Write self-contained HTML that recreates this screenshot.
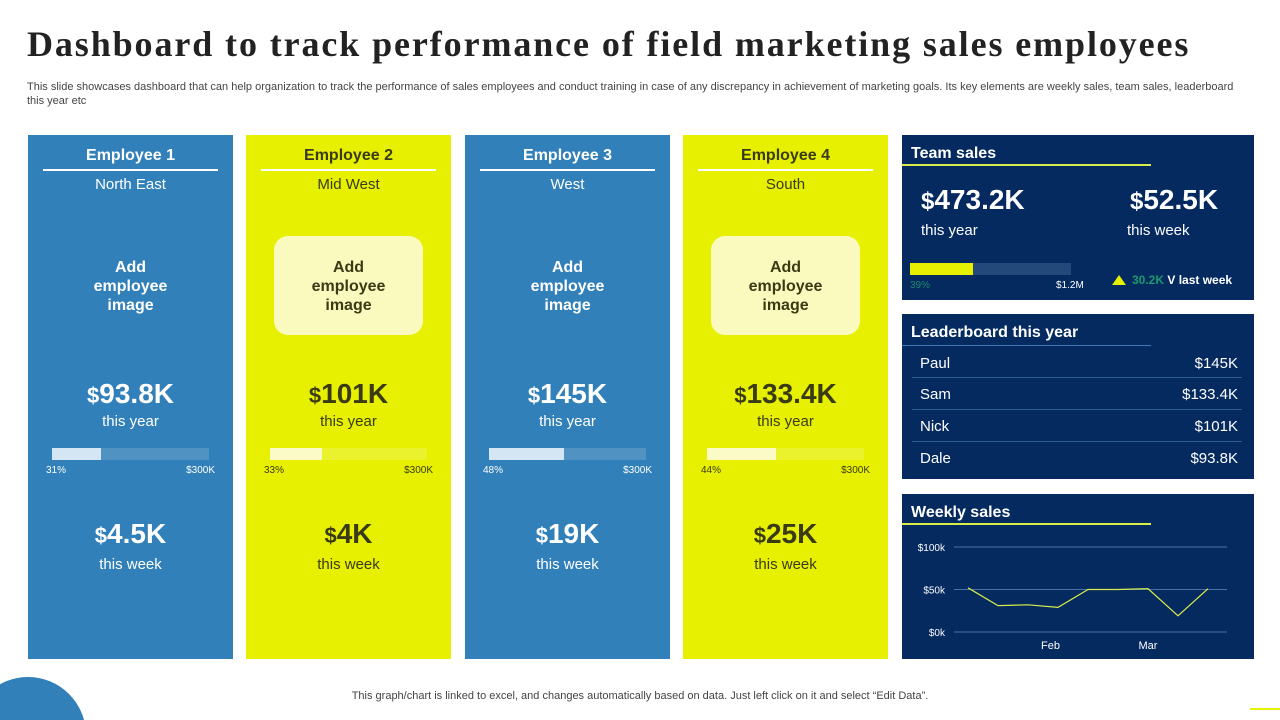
<!DOCTYPE html>
<html style="width:1280px;height:720px;overflow:hidden"><head><meta charset="utf-8">
<style>
html,body{overflow:hidden}
body{margin:0;width:1280px;height:720px;background:#fff;position:relative;overflow:hidden;font-family:"Liberation Sans",sans-serif}
.a{position:absolute}
.card{position:absolute;top:135px;width:205px;height:524px}
.blue{background:#3280b9;color:#fff}
.yel{background:#e6f000;color:#3a3a14}
.c{position:absolute;left:0;width:100%;text-align:center}
.ul{position:absolute;left:15px;width:175px;top:34px;height:2px;background:#fff}
.rg{top:41px;font-size:15px}
.img{position:absolute;left:28px;width:149px;top:101px;height:99px;border-radius:14px}
.yel .img{background:#fafabf}
.it{top:123px;font-weight:bold;font-size:16px;line-height:19px}
.big{font-weight:bold;font-size:28px}
.big small{font-size:22px}
.sub{font-size:15px}
.bar{position:absolute;left:24px;width:157px;top:313px;height:12px}
.blue .bar{background:rgba(255,255,255,.15)}
.yel .bar{background:rgba(255,255,255,.18)}
.fill{position:absolute;left:0;top:0;height:12px}
.blue .fill{background:#d4e5f4}
.yel .fill{background:#fbfbc8}
.bl{position:absolute;top:330px;font-size:10px}
.panel{position:absolute;left:902px;width:352px;background:#052a60;color:#fff}
.ph{position:absolute;left:9px;top:10px;font-weight:bold;font-size:16px}
.lb{position:absolute;left:18px;font-size:15px}
.lv{position:absolute;right:16px;font-size:15px}
.ld{position:absolute;left:10px;width:330px;height:1px;background:#2c5a92}
</style></head><body>
<div class="a" style="left:27px;top:23px;font-family:'Liberation Serif',serif;font-weight:bold;font-size:36px;color:#222;letter-spacing:1.9px;white-space:nowrap">Dashboard to track performance of field marketing sales employees</div>
<div class="a" style="left:27px;top:80px;width:1212px;font-size:11px;color:#444;line-height:14px">This slide showcases dashboard that can help organization to track the performance of sales employees and conduct training in case of any discrepancy in achievement of marketing goals. Its key elements are weekly sales, team sales, leaderboard this year etc</div>

<div class="card blue" style="left:28px">
<div class="c" style="top:12px;font-weight:bold;font-size:16px">Employee 1</div><div class="ul"></div>
<div class="c rg" style="top:41px">North East</div>
<div class="c it" style="top:123px">Add<br>employee<br>image</div>
<div class="c big" style="top:243px"><small>$</small>93.8K</div>
<div class="c sub" style="top:278px">this year</div>
<div class="bar"><div class="fill" style="width:31%"></div></div>
<div class="bl" style="left:18px">31%</div><div class="bl" style="right:18px">$300K</div>
<div class="c big" style="top:383px"><small>$</small>4.5K</div>
<div class="c sub" style="top:421px">this week</div>
</div>

<div class="card yel" style="left:246px">
<div class="c" style="top:12px;font-weight:bold;font-size:16px">Employee 2</div><div class="ul"></div>
<div class="c rg" style="top:41px">Mid West</div>
<div class="img"></div>
<div class="c it" style="top:123px">Add<br>employee<br>image</div>
<div class="c big" style="top:243px"><small>$</small>101K</div>
<div class="c sub" style="top:278px">this year</div>
<div class="bar"><div class="fill" style="width:33%"></div></div>
<div class="bl" style="left:18px">33%</div><div class="bl" style="right:18px">$300K</div>
<div class="c big" style="top:383px"><small>$</small>4K</div>
<div class="c sub" style="top:421px">this week</div>
</div>

<div class="card blue" style="left:465px">
<div class="c" style="top:12px;font-weight:bold;font-size:16px">Employee 3</div><div class="ul"></div>
<div class="c rg" style="top:41px">West</div>
<div class="c it" style="top:123px">Add<br>employee<br>image</div>
<div class="c big" style="top:243px"><small>$</small>145K</div>
<div class="c sub" style="top:278px">this year</div>
<div class="bar"><div class="fill" style="width:48%"></div></div>
<div class="bl" style="left:18px">48%</div><div class="bl" style="right:18px">$300K</div>
<div class="c big" style="top:383px"><small>$</small>19K</div>
<div class="c sub" style="top:421px">this week</div>
</div>

<div class="card yel" style="left:683px">
<div class="c" style="top:12px;font-weight:bold;font-size:16px">Employee 4</div><div class="ul"></div>
<div class="c rg" style="top:41px">South</div>
<div class="img"></div>
<div class="c it" style="top:123px">Add<br>employee<br>image</div>
<div class="c big" style="top:243px"><small>$</small>133.4K</div>
<div class="c sub" style="top:278px">this year</div>
<div class="bar"><div class="fill" style="width:44%"></div></div>
<div class="bl" style="left:18px">44%</div><div class="bl" style="right:18px">$300K</div>
<div class="c big" style="top:383px"><small>$</small>25K</div>
<div class="c sub" style="top:421px">this week</div>
</div>

<div class="panel" style="top:135px;height:165px">
<div class="ph" style="top:10px">Team sales</div>
<div class="a" style="left:0;top:29px;width:249px;height:2px;background:#d8ec4a"></div>
<div class="a" style="left:19px;top:49px;font-weight:bold;font-size:28px"><span style="font-size:24px">$</span>473.2K</div>
<div class="a" style="left:19px;top:87px;font-size:15px">this year</div>
<div class="a" style="left:228px;top:49px;font-weight:bold;font-size:28px"><span style="font-size:24px">$</span>52.5K</div>
<div class="a" style="left:225px;top:87px;font-size:15px">this week</div>
<div class="a" style="left:8px;top:128px;width:161px;height:12px;background:#23487a"><div class="a" style="left:0;top:0;width:39%;height:12px;background:#e6f000"></div></div>
<div class="a" style="left:8px;top:145px;font-size:10px;color:#1a8a6a">39%</div>
<div class="a" style="left:154px;top:145px;font-size:10px">$1.2M</div>
<div class="a" style="left:210px;top:140px;width:0;height:0;border-left:7px solid transparent;border-right:7px solid transparent;border-bottom:10px solid #e6f000"></div>
<div class="a" style="left:230px;top:138px;font-size:12px;font-weight:bold"><span style="color:#1d9a6c">30.2K</span> V last week</div>
</div>

<div class="panel" style="top:314px;height:165px">
<div class="ph" style="top:10px">Leaderboard this year</div>
<div class="a" style="left:0;top:31px;width:249px;height:1px;background:#3f78b8"></div>
<div class="lb" style="top:41px">Paul</div><div class="lv" style="top:41px">$145K</div>
<div class="ld" style="top:63px"></div>
<div class="lb" style="top:72px">Sam</div><div class="lv" style="top:72px">$133.4K</div>
<div class="ld" style="top:95px"></div>
<div class="lb" style="top:104px">Nick</div><div class="lv" style="top:104px">$101K</div>
<div class="ld" style="top:127px"></div>
<div class="lb" style="top:136px">Dale</div><div class="lv" style="top:136px">$93.8K</div>
</div>

<div class="panel" style="top:494px;height:165px">
<div class="ph" style="top:10px">Weekly sales</div>
<div class="a" style="left:0;top:29px;width:249px;height:2px;background:#d8ec4a"></div>
<svg class="a" style="left:0;top:0" width="352" height="165" id="wk"></svg>
</div>

<div class="a" style="left:0;width:1280px;top:690px;text-align:center;font-size:11px;color:#444">This graph/chart is linked to excel, and changes automatically based on data. Just left click on it and select “Edit Data”.</div>
<div class="a" style="left:0;top:677px;width:86px;height:43px;overflow:hidden"><div style="margin-left:-30px;width:116px;height:116px;border-radius:50%;background:#3280b9"></div></div>
<div class="a" style="left:1250px;top:708px;width:30px;height:2px;background:#e6f000"></div>

<script>
const yTicks=[0,50,100];
const yTickLabels=["$0k","$50k","$100k"];
const weeklyValues=[52,31,32,29,50,50,51,19,51];
const xLabels=["Feb","Mar"];
const xLabelIdx=[2.75,6];
const svg=document.getElementById('wk');
const NS='http://www.w3.org/2000/svg';
const y=v=>138-v/100*85;
const xi=i=>66+i*30;
yTicks.forEach((t,k)=>{
 const l=document.createElementNS(NS,'line');
 
 
 l.setAttribute('x1',52);l.setAttribute('x2',325);l.setAttribute('y1',y(t));l.setAttribute('y2',y(t));
 l.setAttribute('stroke','#4a70a8');l.setAttribute('stroke-width','1');svg.appendChild(l);
 const tx=document.createElementNS(NS,'text');
 
 
 tx.setAttribute('x',43);tx.setAttribute('y',y(t)+4);tx.setAttribute('text-anchor','end');
 tx.setAttribute('fill','#fff');tx.setAttribute('font-size','10');tx.textContent=yTickLabels[k];svg.appendChild(tx);
});
xLabels.forEach((s,k)=>{
 const tx=document.createElementNS(NS,'text');
 
 
 tx.setAttribute('x',xi(xLabelIdx[k]));tx.setAttribute('y',155);tx.setAttribute('text-anchor','middle');
 tx.setAttribute('fill','#fff');tx.setAttribute('font-size','11');tx.textContent=s;svg.appendChild(tx);
});
const p=document.createElementNS(NS,'polyline');


p.setAttribute('points',weeklyValues.map((v,i)=>xi(i)+','+y(v)).join(' '));
p.setAttribute('fill','none');p.setAttribute('stroke','#d8ec4a');p.setAttribute('stroke-width','1.2');
svg.appendChild(p);
</script>
</body></html>
